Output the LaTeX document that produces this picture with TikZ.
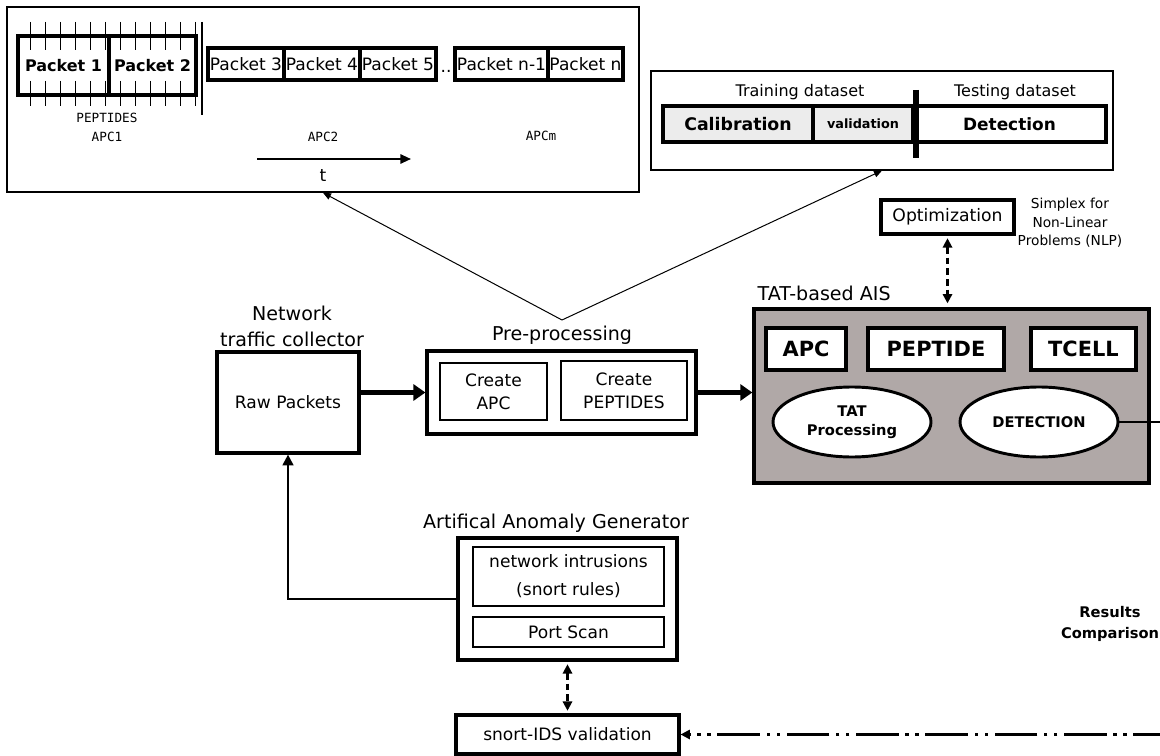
\documentclass[tikz,border=0pt]{standalone}
\usepackage{fontspec}
\setmainfont{DejaVu Sans}
\setmonofont{DejaVu Sans Mono}
\usetikzlibrary{positioning,arrows.meta,fit,calc,shapes.geometric}

\definecolor{aisgray}{RGB}{176,168,167}
\definecolor{setgray}{RGB}{236,236,236}

\tikzset{
  box/.style={draw, line width=2.4pt, inner sep=0pt, align=center},
  thinbox/.style={draw, line width=0.9pt, inner sep=0pt},
  innerbox/.style={draw, line width=1.6pt, inner sep=0pt, align=center},
  lbl/.style={font=\fontsize{14.3}{19.5}\selectfont, align=center},
  txt/.style={font=\fontsize{12.8}{17}\selectfont},
  mono/.style={font=\ttfamily\fontsize{9.5}{11}\selectfont},
  bigarrow/.style={line width=3.6pt, -{Triangle[length=9pt,width=12pt]}},
  thinarrow/.style={line width=0.75pt, -{Triangle[length=6pt,width=5pt]}},
  dasharrow/.style={line width=1.6pt, dash pattern=on 5pt off 3pt,
    {Triangle[length=7pt,width=7pt]}-{Triangle[length=7pt,width=7pt]}},
  loopline/.style={line width=1.6pt, dash pattern=on 32pt off 5pt on 2.5pt off 5pt on 2.5pt off 5pt,
    -{Triangle[length=7pt,width=7pt]}}
}

\begin{document}
\begin{tikzpicture}[x=0.75pt, y=-0.75pt]
        \useasboundingbox (0,0) rectangle (1160,756);
        \clip (0,0) rectangle (1160,756);

        % packet stream
        \node [thinbox, line width=1.1pt, fit={(7,7) (639,192)}] (stream) {};
        \node [box, minimum width=68.25pt, minimum height=44.25pt, font=\bfseries\fontsize{12}{14}\selectfont] (pkt1) at (63.5,65.5) {Packet 1};
        \node [box, minimum width=65.25pt, minimum height=44.25pt, font=\bfseries\fontsize{12}{14}\selectfont] (pkt2) at (152.5,65.5) {Packet 2};
        \foreach \tx in {30,45,...,195} {
            \draw[line width=0.7pt] (\tx,22) -- (\tx,50);
            \draw[line width=0.7pt] (\tx,81) -- (\tx,106);
        }
        \draw[line width=1.3pt] (202,22) -- (202,115);
        \node [box, txt, minimum width=57pt, minimum height=24pt] (pkt3) at (246,64) {Packet 3};
        \node [box, txt, minimum width=57pt, minimum height=24pt] (pkt4) at (322,64) {Packet 4};
        \node [box, txt, minimum width=57pt, minimum height=24pt] (pkt5) at (398,64) {Packet 5};
        \node [txt, anchor=base] (dots) at (446,73) {..};
        \node [box, txt, minimum width=69.75pt, minimum height=24pt] (pktm) at (501.5,64) {Packet n-1};
        \node [box, txt, minimum width=56.25pt, minimum height=24pt] (pktn) at (585.5,64) {Packet n};
        \node [mono] (pep) at (107,118) {PEPTIDES};
        \node [mono] (apc1) at (107,137) {APC1};
        \node [mono] (apc2) at (323,137) {APC2};
        \node [mono] (apcm) at (541,136) {APCm};
        \coordinate (tstart) at (257,159);
        \coordinate (tend) at (411,159);
        \draw[line width=1.4pt, -{Triangle[length=8pt,width=7pt]}] (tstart) -- (tend);
        \node [txt] (time) at (323,176) {t};

        % datasets
        \node [thinbox, fit={(651,71) (1113,170)}] (dataset) {};
        \node [box, fill=setgray, minimum width=112.5pt, minimum height=27pt, font=\bfseries\fontsize{13}{15}\selectfont] (calib) at (738,124) {Calibration};
        \node [box, fill=setgray, minimum width=75pt, minimum height=27pt, font=\bfseries\fontsize{9.6}{11}\selectfont] (valid) at (863,124) {validation};
        \node [box, minimum width=144.75pt, minimum height=27pt, font=\bfseries\fontsize{12.7}{15}\selectfont] (detset) at (1009.5,124) {Detection};
        \draw[line width=4.5pt] (916,90) -- (916,158);
        \node [font=\fontsize{12}{14}\selectfont] (train) at (800,92) {Training dataset};
        \node [font=\fontsize{12}{14}\selectfont] (test) at (1015,92) {Testing dataset};

        % optimization
        \node [box, minimum width=99.75pt, minimum height=25.5pt, font=\fontsize{12.9}{15}\selectfont] (optim) at (947.5,217) {Optimization};
        \node [font=\fontsize{10.3}{13.9}\selectfont, align=center] (simplex) at (1070,223) {Simplex for\\Non-Linear\\Problems (NLP)};

        % TAT-based AIS
        \node [lbl, anchor=west] (aislabel) at (753,293) {TAT-based AIS};
        \node [box, line width=2.5pt, fill=aisgray, fit={(754,309) (1149,483)}] (ais) {};
        \node [box, fill=white, minimum width=60pt, minimum height=31.5pt, font=\bfseries\fontsize{15.7}{18}\selectfont] (apc) at (806,349) {APC};
        \node [box, fill=white, minimum width=102pt, minimum height=31.5pt, font=\bfseries\fontsize{15.7}{18}\selectfont] (peptide) at (936,349) {PEPTIDE};
        \node [box, fill=white, minimum width=78.75pt, minimum height=31.5pt, font=\bfseries\fontsize{15.7}{18}\selectfont] (tcell) at (1083.5,349) {TCELL};
        \node [ellipse, draw, line width=2.2pt, fill=white, minimum width=118.5pt, minimum height=52.5pt,
               align=center, font=\bfseries\fontsize{11}{14.5}\selectfont] (tatproc) at (852,422) {TAT\\Processing};
        \node [ellipse, draw, line width=2.2pt, fill=white, minimum width=118.5pt, minimum height=52.5pt,
               font=\bfseries\fontsize{11}{14}\selectfont] (detect) at (1039,422) {DETECTION};

        % collector and pre-processing
        \node [lbl] (netlabel) at (292,326) {Network\\traffic collector};
        \node [box, txt, minimum width=106.5pt, minimum height=75.75pt] (raw) at (288,402.5) {Raw Packets};
        \node [lbl] (prelabel) at (562,335) {Pre-processing};
        \node [box, fit={(427,351) (696,434)}] (pre) {};
        \node [innerbox, txt, minimum width=80.25pt, minimum height=42.75pt] (mkapc) at (493.5,391.5) {Create\\APC};
        \node [innerbox, txt, minimum width=94.5pt, minimum height=44.25pt] (mkpep) at (624,390.5) {Create\\PEPTIDES};
        \coordinate (split) at (562,320);

        % anomaly generator
        \node [lbl] (genlabel) at (556,523) {Artifical Anomaly Generator};
        \node [box, fit={(458,538) (677,660)}] (gen) {};
        \node [innerbox, minimum width=143.25pt, minimum height=44.25pt, font=\fontsize{12.8}{21}\selectfont] (intrus) at (568.5,576.5) {network intrusions\\(snort rules)};
        \node [innerbox, txt, minimum width=143.25pt, minimum height=22.5pt] (scan) at (568.5,632) {Port Scan};
        \node [box, txt, minimum width=167.25pt, minimum height=29.25pt] (snort) at (567.5,734.5) {snort-IDS validation};
        \node [align=center, font=\bfseries\fontsize{11}{15.75}\selectfont] (results) at (1110,624) {Results\\Comparison};

        % connectors
        \draw[bigarrow] (raw.east |- pre.west) -- (pre.west);
        \draw[bigarrow] (pre.east) -- (pre.east -| ais.west);
        \draw[thinarrow] (split) -- (stream.south);
        \draw[thinarrow] (split) -- (dataset.south);
        \draw[dasharrow, shorten <=2pt, shorten >=3pt] (optim.south) -- (optim.south |- ais.north);
        \draw[line width=1.6pt, -{Triangle[length=8pt,width=8pt]}] (gen.west) -| (raw.south);
        \draw[dasharrow, shorten <=2pt, shorten >=2pt] (gen.south) -- (gen.south |- snort.north);
        \draw[loopline] (detect.east) -- ++(80,0) |- (snort.east);
    \end{tikzpicture}
\end{document}
